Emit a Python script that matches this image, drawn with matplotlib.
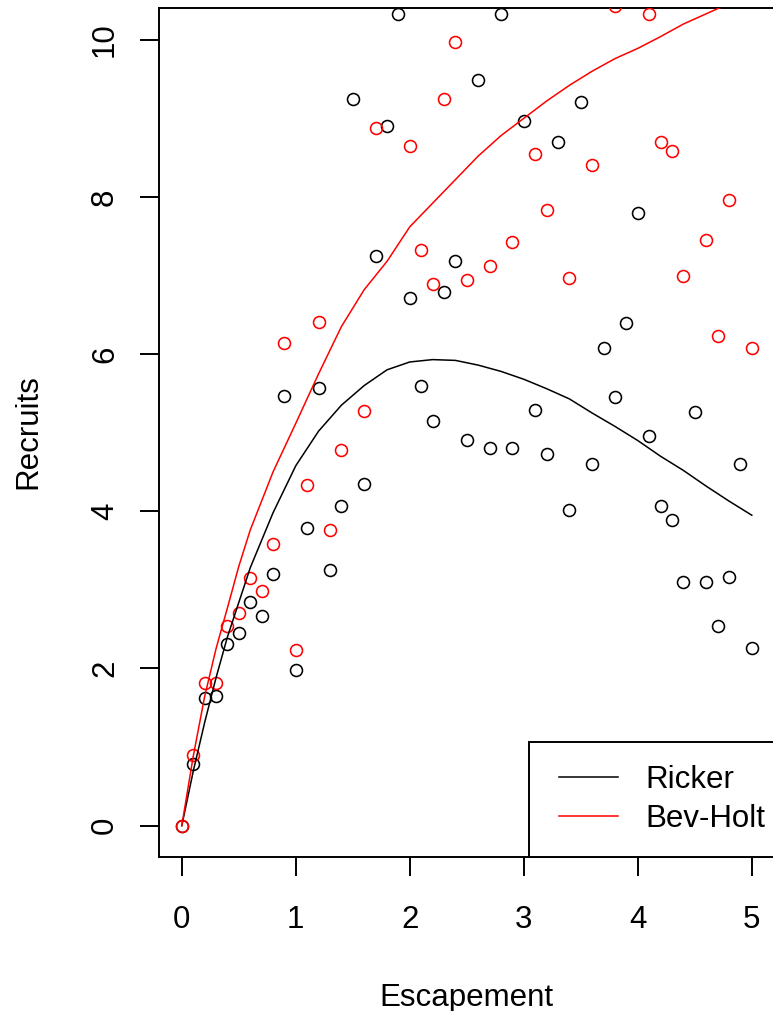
import matplotlib
matplotlib.use("Agg")
import matplotlib.pyplot as plt
from matplotlib.legend_handler import HandlerLine2D

# ---------------- data ----------------
escapement = [round(0.1 * i, 1) for i in range(51)]

recruits_ricker = [0.00, 0.79, 1.63, 1.65, 2.31, 2.45, 2.85, 2.67, 3.20, 5.47,
                   1.98, 3.79, 5.57, 3.25, 4.07, 9.24, 4.35, 7.25, 8.90, 10.33,
                   6.72, 5.60, 5.15, 6.79, 7.18, 4.91, 9.49, 4.80, 10.33, 4.80,
                   8.96, 5.29, 4.73, 8.70, 4.02, 9.21, 4.60, 6.08, 5.45, 6.39,
                   7.79, 4.96, 4.07, 3.89, 3.10, 5.26, 3.10, 2.54, 3.16, 4.60,
                   2.26]

# values above the plotted range (clipped in the reference) are estimates
recruits_bevholt = [0.00, 0.90, 1.81, 1.82, 2.54, 2.70, 3.15, 2.98, 3.58, 6.14,
                    2.24, 4.33, 6.41, 3.76, 4.78, 11.1, 5.27, 8.88, 11.0, 13.0,
                    8.65, 7.33, 6.89, 9.24, 9.97, 6.94, 13.8, 7.12, 15.7, 7.43,
                    14.2, 8.55, 7.83, 14.7, 6.97, 16.4, 8.40, 11.4, 10.43, 12.6,
                    15.7, 10.33, 8.70, 8.58, 7.00, 12.2, 7.45, 6.23, 7.96, 11.9,
                    6.08]

curve_x_ricker = [0, 0.1, 0.2, 0.3, 0.4, 0.6, 0.8, 1.0, 1.2, 1.4, 1.6, 1.8, 2.0,
                  2.2, 2.4, 2.6, 2.8, 3.0, 3.2, 3.4, 3.6, 3.8, 4.0, 4.2, 4.4,
                  4.6, 4.8, 5.0]
curve_y_ricker = [0, 0.69, 1.31, 1.88, 2.40, 3.28, 3.98, 4.58, 5.02, 5.35, 5.60,
                  5.80, 5.90, 5.93, 5.92, 5.86, 5.78, 5.68, 5.56, 5.43, 5.25,
                  5.08, 4.90, 4.70, 4.52, 4.32, 4.13, 3.95]

curve_x_bh = [0, 0.1, 0.2, 0.3, 0.4, 0.5, 0.6, 0.8, 1.0, 1.2, 1.4, 1.6, 1.8, 2.0,
              2.2, 2.4, 2.6, 2.8, 3.0, 3.2, 3.4, 3.6, 3.8, 4.0, 4.2, 4.4, 4.6,
              4.8, 5.0]
curve_y_bh = [0, 0.88, 1.64, 2.25, 2.77, 3.30, 3.76, 4.50, 5.12, 5.75, 6.35,
              6.82, 7.18, 7.62, 7.92, 8.22, 8.52, 8.78, 9.00, 9.22, 9.42, 9.60,
              9.76, 9.89, 10.04, 10.20, 10.33, 10.46, 10.58]

x_ticks = [0, 1, 2, 3, 4, 5]
y_ticks = [0, 2, 4, 6, 8, 10]
legend_labels = ["Ricker", "Bev-Holt"]

# ---------------- figure ----------------
plt.rcParams['font.family'] = ['Liberation Sans', 'DejaVu Sans']
FS = 22.5
W, H = 773, 1011
fig = plt.figure(figsize=(W / 100, H / 100), dpi=100)
fig.patch.set_facecolor('white')

left, right, top, bottom = 159.0, 774.6, 8.3, 857.1
ax = fig.add_axes([left / W, (H - bottom) / H, (right - left) / W, (bottom - top) / H])
ax.set_xlim(-0.2, 5.2)
ax.set_ylim(-0.4, 10.4)

ax.plot(escapement, recruits_ricker, linestyle='none', marker='o', ms=8.6,
        mfc='none', mec='black', mew=1.15, zorder=2)
ax.plot(escapement, recruits_bevholt, linestyle='none', marker='o', ms=8.6,
        mfc='none', mec='#ff0000', mew=1.15, zorder=3)

l1, = ax.plot(curve_x_ricker, curve_y_ricker, color='black', lw=1.1, zorder=4)
l2, = ax.plot(curve_x_bh, curve_y_bh, color='#ff0000', lw=1.1, zorder=4)

for s in ax.spines.values():
    s.set_linewidth(1.4)
    s.set_color('black')

ax.set_xticks(x_ticks)
ax.set_yticks(y_ticks)
ax.set_xticklabels([str(t) for t in x_ticks])
ax.set_yticklabels([str(t) for t in y_ticks])
ax.tick_params(axis='both', direction='out', length=13.7, width=1.4,
               colors='black', labelsize=FS)
ax.tick_params(axis='x', pad=20.5)
ax.tick_params(axis='y', pad=19.4)
for lbl in ax.get_yticklabels():
    lbl.set_rotation(90)
    lbl.set_rotation_mode('anchor')
    lbl.set_horizontalalignment('center')
    lbl.set_verticalalignment('baseline')

fig.text(466.5 / W, 1 - 1005.7 / H, 'Escapement', ha='center', va='baseline',
         fontsize=FS, color='black')
fig.text(36.7 / W, 1 - 431.7 / H, 'Recruits', rotation=90, rotation_mode='anchor',
         ha='center', va='baseline', fontsize=FS, color='black')

leg = ax.legend([l1, l2], legend_labels, loc='lower left',
                bbox_to_anchor=((529.3 - left) / (right - left), 0.0),
                borderaxespad=0.0, fontsize=FS, frameon=True, fancybox=False,
                edgecolor='black', framealpha=1.0, borderpad=0.75,
                labelspacing=0.27, handlelength=2.3, handletextpad=0.65,
                handler_map={l1: HandlerLine2D(marker_pad=0.2, numpoints=2),
                             l2: HandlerLine2D(marker_pad=0.2, numpoints=2)})
leg.get_frame().set_linewidth(1.4)
leg.set_zorder(5)

fig.savefig('out.png', dpi=100)
